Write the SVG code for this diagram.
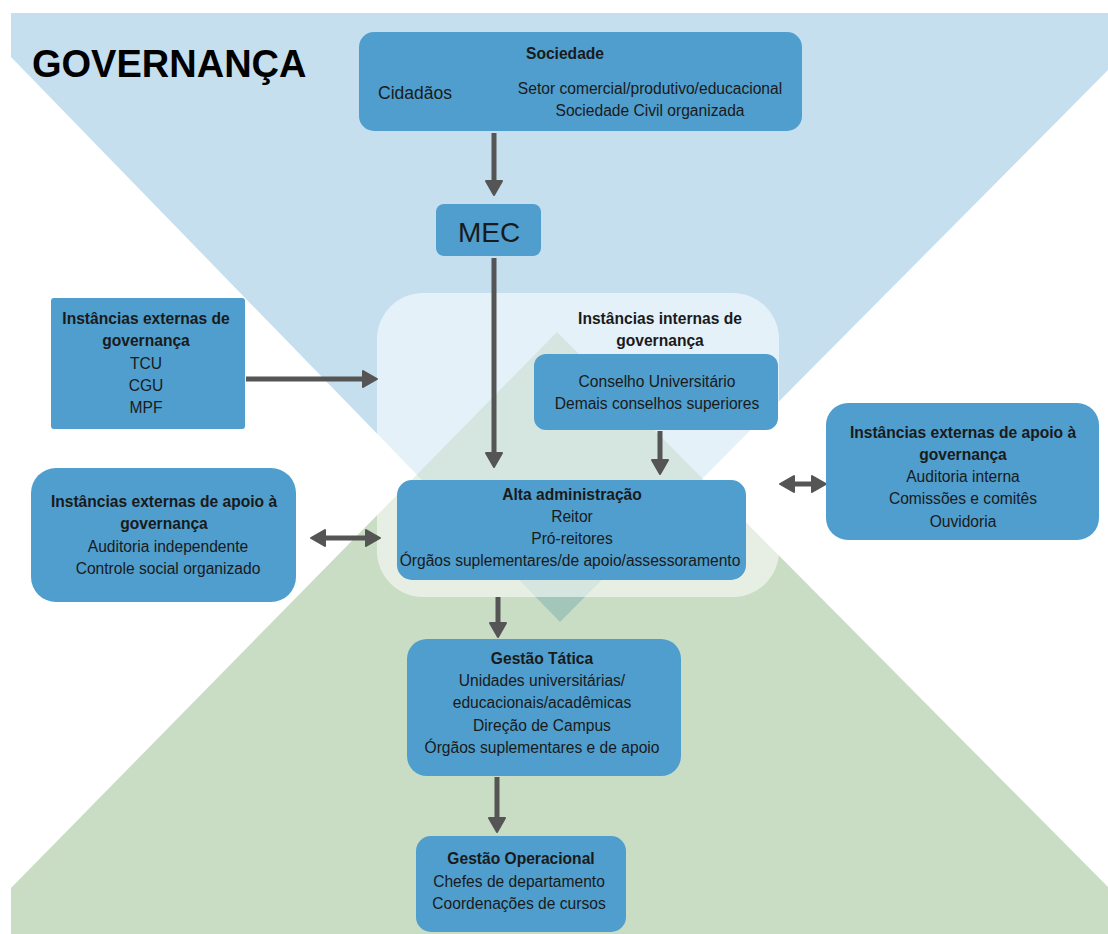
<svg xmlns="http://www.w3.org/2000/svg" width="1108" height="934" viewBox="0 0 1108 934">
<defs>
<style>
.node{fill:#4f9ecd}
.t{font-family:"Liberation Sans",Arial,sans-serif;font-size:15.6px;fill:#1a1a1a;text-anchor:middle}
.b{font-weight:bold}
.conn line{stroke:#555;stroke-width:5}
</style>
<marker id="ah" viewBox="-2 -11 19 22" refX="5" refY="0" markerWidth="19" markerHeight="22" markerUnits="userSpaceOnUse" orient="auto-start-reverse">
<path d="M0,-8 L14,0 L0,8 z" fill="#555" stroke="#555" stroke-width="2" stroke-linejoin="round"/>
</marker>
</defs>
<rect width="1108" height="934" fill="#fff"/>
<g id="background">
<polygon points="11,13 1108,13 1108,70 560,622 11,57" fill="#4f9ecd" fill-opacity="0.33"/>
<polygon points="557,332 1108,887 1108,934 11,934 11,888" fill="#5b954c" fill-opacity="0.33"/>
<rect x="377" y="293" width="402" height="304" rx="46" fill="#fff" fill-opacity="0.55"/>
</g>
<text x="32" y="77" style="font-family:'Liberation Sans',Arial,sans-serif;font-size:38px;font-weight:bold;fill:#000">GOVERNANÇA</text>
<g class="conn">
<line x1="494" y1="133" x2="494" y2="186" marker-end="url(#ah)"/>
<line x1="494" y1="258" x2="494" y2="458" marker-end="url(#ah)"/>
<line x1="246" y1="379" x2="368" y2="379" marker-end="url(#ah)"/>
<line x1="660" y1="431" x2="660" y2="465" marker-end="url(#ah)"/>
<line x1="789" y1="484" x2="817" y2="484" marker-start="url(#ah)" marker-end="url(#ah)"/>
<line x1="320" y1="538" x2="371" y2="538" marker-start="url(#ah)" marker-end="url(#ah)"/>
<line x1="498" y1="597" x2="498" y2="628" marker-end="url(#ah)"/>
<line x1="497" y1="777" x2="497" y2="823" marker-end="url(#ah)"/>
</g>
<g id="sociedade">
<rect class="node" x="359" y="32" width="443" height="99" rx="15"/>
<text class="t b" x="565" y="58.5">Sociedade</text>
<text class="t" x="378" y="99" style="text-anchor:start;font-size:17.5px">Cidadãos</text>
<text class="t" x="650" y="93.5">Setor comercial/produtivo/educacional</text>
<text class="t" x="650" y="115.5">Sociedade Civil organizada</text>
</g>
<g id="mec">
<rect class="node" x="436" y="204" width="105" height="52" rx="8"/>
<text class="t" x="489" y="242" style="font-size:28px">MEC</text>
</g>
<g id="ext-gov">
<rect class="node" x="51" y="298" width="194" height="131" rx="3"/>
<text class="t b" x="146" y="323.5">Instâncias externas de</text>
<text class="t b" x="146" y="346">governança</text>
<text class="t" x="146" y="368.5">TCU</text>
<text class="t" x="146" y="390.5">CGU</text>
<text class="t" x="146" y="413">MPF</text>
</g>
<g id="int-gov">
<text class="t b" x="660" y="323.5">Instâncias internas de</text>
<text class="t b" x="660" y="345.5">governança</text>
</g>
<g id="conselho">
<rect class="node" x="534" y="354" width="244" height="76" rx="12"/>
<text class="t" x="657" y="386.5">Conselho Universitário</text>
<text class="t" x="657" y="408.5">Demais conselhos superiores</text>
</g>
<g id="alta">
<rect class="node" x="397" y="480" width="349" height="100" rx="15"/>
<text class="t b" x="572" y="499.5">Alta administração</text>
<text class="t" x="572" y="521.5">Reitor</text>
<text class="t" x="572" y="543.5">Pró-reitores</text>
<text class="t" x="570" y="566">Órgãos suplementares/de apoio/assessoramento</text>
</g>
<g id="ext-apoio-right">
<rect class="node" x="826" y="403" width="273" height="137" rx="22"/>
<text class="t b" x="963" y="437.5">Instâncias externas de apoio à</text>
<text class="t b" x="963" y="459.5">governança</text>
<text class="t" x="963" y="481.5">Auditoria interna</text>
<text class="t" x="963" y="503.5">Comissões e comitês</text>
<text class="t" x="963" y="526.5">Ouvidoria</text>
</g>
<g id="ext-apoio-left">
<rect class="node" x="31" y="468" width="265" height="134" rx="25"/>
<text class="t b" x="164" y="506.5">Instâncias externas de apoio à</text>
<text class="t b" x="164" y="528.5">governança</text>
<text class="t" x="168" y="551.5">Auditoria independente</text>
<text class="t" x="168" y="573.5">Controle social organizado</text>
</g>
<g id="tatica">
<rect class="node" x="407" y="639" width="274" height="137" rx="20"/>
<text class="t b" x="542" y="663.5">Gestão Tática</text>
<text class="t" x="542" y="685.5">Unidades universitárias/</text>
<text class="t" x="542" y="707.5">educacionais/acadêmicas</text>
<text class="t" x="542" y="730.5">Direção de Campus</text>
<text class="t" x="542" y="752.5">Órgãos suplementares e de apoio</text>
</g>
<g id="operacional">
<rect class="node" x="416" y="836" width="210" height="96" rx="15"/>
<text class="t b" x="521" y="863.5">Gestão Operacional</text>
<text class="t" x="519" y="886.5">Chefes de departamento</text>
<text class="t" x="519" y="908.5">Coordenações de cursos</text>
</g>
</svg>
